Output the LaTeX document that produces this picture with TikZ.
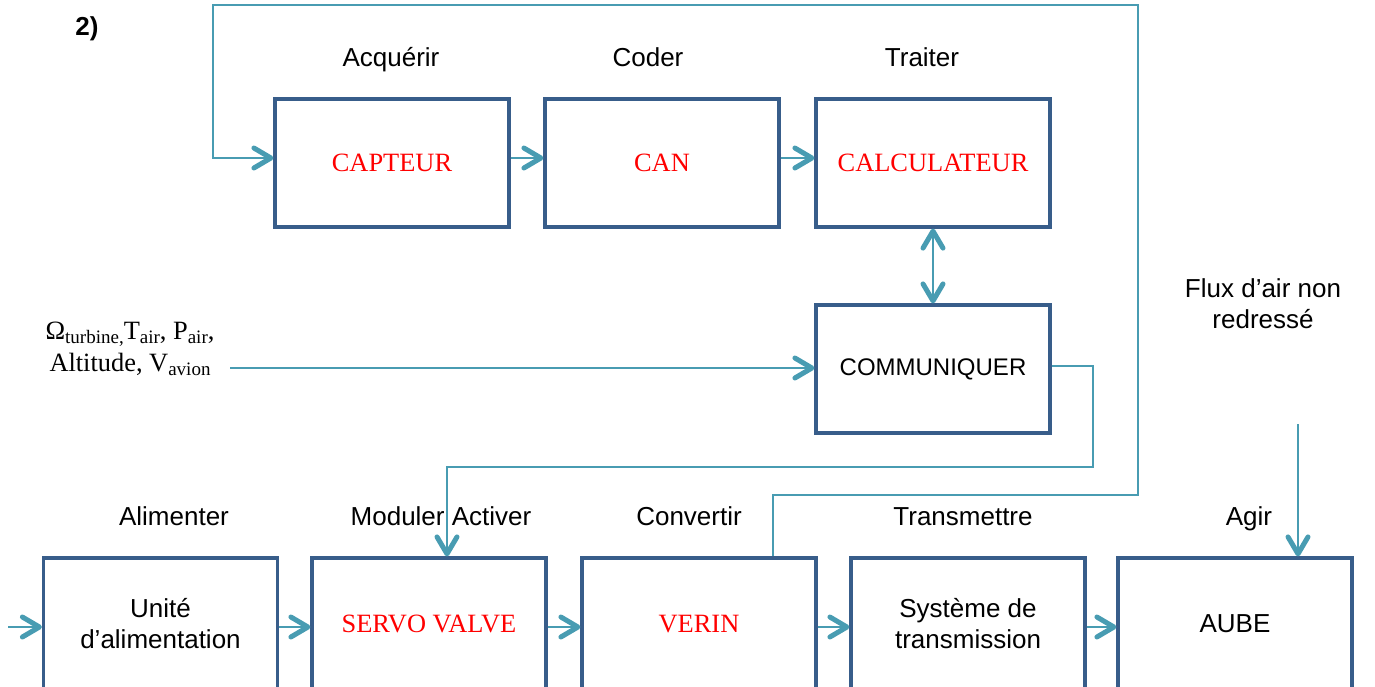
\documentclass[tikz,border=0pt]{standalone}
\usepackage{fontspec}
\setmainfont{Liberation Sans}
\newfontfamily\serifface{Liberation Serif}
\usetikzlibrary{arrows.meta,calc}

\definecolor{linkteal}{RGB}{72,156,178}
\definecolor{boxblue}{RGB}{56,93,138}
\definecolor{redtext}{RGB}{255,0,0}

% subscript set in the serif face, slightly lowered
\newcommand{\lowsub}[1]{\raisebox{-0.35ex}{\fontsize{9.5}{9.5}\selectfont #1}}
% red serif caption inside a block
\newcommand{\redcap}[1]{\textcolor{redtext}{\serifface\fontsize{13.2}{15}\selectfont #1}}

\tikzset{
  blockbox/.style={draw=boxblue, line width=1.6pt, fill=white,
    minimum width=117pt, minimum height=64pt, inner sep=0pt,
    align=center, font=\fontsize{13}{15.5}\selectfont},
  lowbox/.style={blockbox, minimum height=66pt},
  steplabel/.style={font=\fontsize{13}{15.5}\selectfont, align=center},
  oneline/.style={steplabel, text height=10pt, text depth=3pt},
  link/.style={draw=linkteal, line width=1.4pt},
  tip/.tip={Straight Barb[length=8.5pt,width=10pt,line width=2.5pt,round]},
  linkarrow/.style={link, -tip},
  twoway/.style={link, tip-tip},
}

\begin{document}
\begin{tikzpicture}[x=0.5pt, y=-0.5pt]
  \clip (0,0) rectangle (1375,686);
  \useasboundingbox (0,0) rectangle (1375,686);

  % heading
  \node[font=\bfseries\fontsize{13}{15}\selectfont] (num) at (87,29) {2)};

  % upper chain: acquisition and processing
  \node[blockbox] (capteur) at (392,163) {\redcap{CAPTEUR}};
  \node[blockbox] (can)     at (662,163) {\redcap{CAN}};
  \node[blockbox] (calc)    at (933,163) {\redcap{CALCULATEUR}};
  \node[blockbox, font=\fontsize{12}{14}\selectfont] (comm) at (933,369) {COMMUNIQUER};

  \node[oneline] (lacq) at (391,59) {Acquérir};
  \node[oneline] (lcod) at (648,59) {Coder};
  \node[oneline] (ltra) at (922,59) {Traiter};

  % lower chain: power and actuation
  \node[lowbox] (unite)   at (160.5,624) {Unité\\d’alimentation};
  \node[lowbox] (servo)   at (429,624) {\redcap{SERVO VALVE}};
  \node[lowbox] (verin)   at (699,624) {\redcap{VERIN}};
  \node[lowbox] (systeme) at (968,624) {Système de\\transmission};
  \node[lowbox] (aube)    at (1235,624) {AUBE};

  \node[oneline] (lali) at (174,518) {Alimenter};
  \node[oneline] (lmod) at (441,518) {Moduler Activer};
  \node[oneline] (lcon) at (689,518) {Convertir};
  \node[oneline] (ltrn) at (963,518) {Transmettre};
  \node[oneline] (lagi) at (1249,518) {Agir};
  \node[steplabel] (lflux) at (1263,304) {Flux d’air non\\redressé};

  % measured quantities entering the communication block
  \node[font=\serifface\fontsize{13.2}{16}\selectfont, align=center] (mesures) at (130,349)
    {Ω\lowsub{turbine,}T\lowsub{air}, P\lowsub{air},\\Altitude, V\lowsub{avion}};

  % free ends of connectors
  \coordinate (insrc)  at (230,368);
  \coordinate (pwrsrc) at (8,627);
  \coordinate (fluxsrc) at (1298,424);
  \coordinate (fbA) at (773,495);
  \coordinate (fbB) at (1138,5);
  \coordinate (fbC) at (213,158);
  \coordinate (cmA) at (1093,366);
  \coordinate (cmB) at (447,467);

  % upper chain arrows
  \draw[linkarrow] ([yshift=2.5pt]capteur.east) -- ([yshift=2.5pt]can.west);
  \draw[linkarrow] ([yshift=2.5pt]can.east) -- ([yshift=2.5pt]calc.west);
  \draw[twoway] (calc.south) -- (comm.north);
  \draw[linkarrow] (insrc) -- (insrc -| comm.west);

  % lower chain arrows
  \draw[linkarrow] (pwrsrc) -- (pwrsrc -| unite.west);
  \draw[linkarrow] ([yshift=-1.5pt]unite.east) -- ([yshift=-1.5pt]servo.west);
  \draw[linkarrow] ([yshift=-1.5pt]servo.east) -- ([yshift=-1.5pt]verin.west);
  \draw[linkarrow] ([yshift=-1.5pt]verin.east) -- ([yshift=-1.5pt]systeme.west);
  \draw[linkarrow] ([yshift=-1.5pt]systeme.east) -- ([yshift=-1.5pt]aube.west);
  \draw[linkarrow] (fluxsrc) -- (fluxsrc |- aube.north);

  % command from the communication block to the servo valve
  \draw[linkarrow] (comm.east |- cmA) -- (cmA) |- (cmB) -- (cmB |- servo.north);

  % position feedback from the actuator to the sensor
  \draw[linkarrow] (fbA |- verin.north) -- (fbA) -| (fbB) -| (fbC) -- (fbC -| capteur.west);
\end{tikzpicture}
\end{document}
